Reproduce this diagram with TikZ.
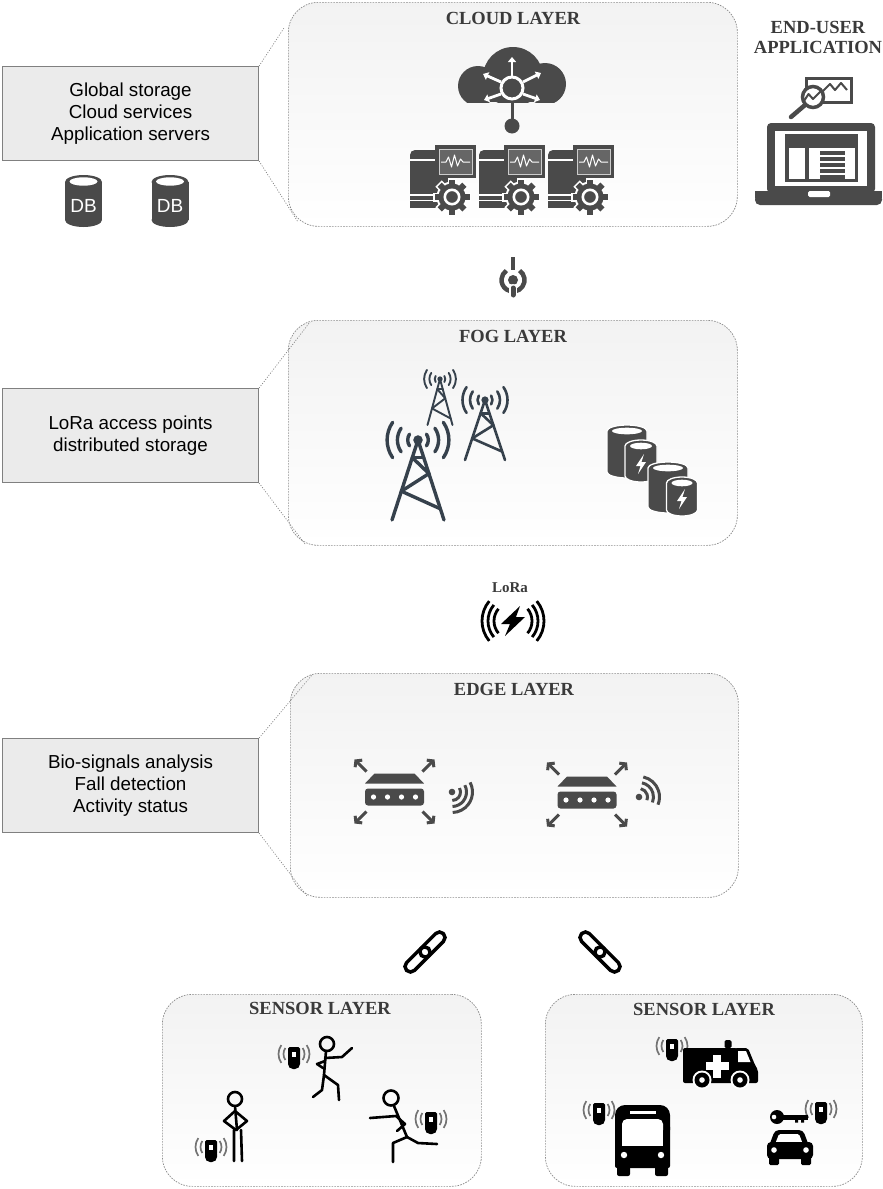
\documentclass[tikz,border=0pt]{standalone}
\usepackage{fontspec}
\setmainfont{Liberation Serif}
\setsansfont{Liberation Sans}
\usetikzlibrary{arrows.meta}
\definecolor{icon}{HTML}{4A4A4A}
\definecolor{mast}{HTML}{36414C}
\definecolor{screen}{HTML}{666666}
\definecolor{panel}{HTML}{EBEBEB}
\definecolor{ttlcol}{HTML}{3A3A3A}

% gear with a white rim, centre (#1,#2)
\newcommand\gearicon[2]{%
  \foreach \ang in {0,45,...,315}{\draw[white,line width=9pt] (#1,#2) -- ++(\ang:19);}
  \fill[white] (#1,#2) circle (15.5);
  \foreach \ang in {0,45,...,315}{\draw[icon,line width=6pt] (#1,#2) -- ++(\ang:17.5);}
  \fill[icon] (#1,#2) circle (13.5);
  \draw[white,line width=2.6pt] (#1,#2) circle (7.2);}

% server tower with monitor and gear, shifted by #1
\newcommand\server[1]{%
 \begin{scope}[shift={(#1,0)}]
  \fill[icon] (410,156) rectangle (448,208);
  \fill[icon,rounded corners=5pt] (410,150) rectangle (448,162);
  \draw[white,line width=1.4pt] (410,160) -- (436,160) (410,195) -- (437,195) (410,200.5) -- (437,200.5);
  \fill[icon] (435,145) rectangle (476,178);
  \filldraw[fill=screen,draw=black!20,line width=0.9pt] (439,149) rectangle (472,174);
  \draw[white,line width=1pt,line join=round] (441,162) -- (446,162) -- (448.5,157) -- (451.5,167) -- (454.5,155) -- (457.5,166) -- (460.5,159) -- (463,162) -- (470,162);
  \gearicon{452}{197}
 \end{scope}}

% database drum: centre x, top y, node name
\newcommand\dbicon[3]{%
  \fill[icon] (#1-18.5,#2+7) rectangle (#1+18.5,#2+45);
  \fill[icon] (#1,#2+7) ellipse [x radius=18.5, y radius=7];
  \fill[icon] (#1,#2+45) ellipse [x radius=18.5, y radius=7];
  \fill[white] (#1,#2+6.5) ellipse [x radius=14, y radius=4.2];
  \node[text=white,font=\sffamily\fontsize{19}{19}\selectfont] (#3) at (#1,#2+31) {DB};}

% storage drum: centre x, top y, half width, bottom y
\newcommand\drum[4]{%
  \filldraw[fill=icon,draw=white,line width=1.3pt]
    (#1-#3,#2+6) -- (#1-#3,#4-6) arc[start angle=180,end angle=0,x radius=#3,y radius=6]
    -- (#1+#3,#2+6) arc[start angle=0,end angle=-180,x radius=#3,y radius=6] -- cycle;
  \fill[white] (#1,#2+6) ellipse [x radius=#3-5, y radius=3.3];}

% lightning bolt in white, centre (#1,#2)
\newcommand\smallbolt[2]{%
  \fill[white] (#1+3,#2-10) -- (#1-5,#2+2) -- (#1-0.5,#2+2) -- (#1-3,#2+10) -- (#1+5,#2-2) -- (#1+0.5,#2-2) -- cycle;}

% radio mast: apex x, apex y, half base, height, wave step, line width
\newcommand\mastico[6]{%
 \begin{scope}[draw=mast,line width=#6,line cap=round,line join=round]
  \draw (#1,#2) -- (#1-#3,#2+#4) (#1,#2) -- (#1+#3,#2+#4);
  \draw ({#1-0.22*#3},{#2+0.22*#4}) -- ({#1+0.42*#3},{#2+0.42*#4}) -- ({#1-0.64*#3},{#2+0.64*#4}) -- ({#1+0.86*#3},{#2+0.86*#4});
  \draw ({#1+0.22*#3},{#2+0.22*#4}) -- ({#1-0.22*#3},{#2+0.22*#4});
  \foreach \k in {1,2,3}{
    \draw (#1,#2) ++(145:\k*#5) arc[start angle=145,end angle=215,radius=\k*#5];
    \draw (#1,#2) ++(-35:\k*#5) arc[start angle=-35,end angle=35,radius=\k*#5];}
  \fill[mast] (#1,#2) circle (1.4*#6);
 \end{scope}}

% router with four corner arrows, centre (#1,#2)
\newcommand\router[2]{%
 \begin{scope}[shift={(#1,#2)}]
  \fill[icon] (-20,-18) -- (20,-18) -- (29.5,-8) -- (-29.5,-8) -- cycle;
  \fill[icon,rounded corners=3pt] (-29.5,-3) rectangle (29.5,14);
  \foreach \dx in {-21,-7,7,21} \fill[white] (\dx,5.5) circle (2.6);
  \foreach \sx/\sy in {1/1,1/-1,-1/1,-1/-1}
    \draw[icon,line width=3pt,-{Straight Barb[length=4pt,width=10pt]}] (\sx*28,\sy*20) -- (\sx*40,\sy*32);
 \end{scope}}

% wifi waves: dot x, dot y, start angle, end angle
\newcommand\wifi[4]{%
  \fill[icon] (#1,#2) circle (3.3);
  \foreach \r in {8.5,14.5,20.5}
    \draw[icon,line width=3pt] (#1,#2) ++(#3:\r) arc[start angle=#3,end angle=#4,radius=\r];}

% chain link: centre x, centre y, angle
\newcommand\chainlink[3]{%
 \begin{scope}[rotate around={#3:(#1,#2)}]
  \draw[black,line width=3.5pt,rounded corners=5.4pt] (#1-26,#2-5.5) rectangle (#1+5,#2+5.5);
  \draw[black,line width=3.5pt,rounded corners=5.4pt] (#1-5,#2-5.5) rectangle (#1+26,#2+5.5);
 \end{scope}}

% wearable sensor with signal arcs, centre (#1,#2)
\newcommand\sensor[2]{%
 \begin{scope}[shift={(#1,#2)}]
  \foreach \r in {10.5,15.5}{
   \draw[black!55,line width=1.7pt] (0,-4) ++(145:\r) arc[start angle=145,end angle=215,radius=\r];
   \draw[black!55,line width=1.7pt] (0,-4) ++(-35:\r) arc[start angle=-35,end angle=35,radius=\r];}
  \fill[black,rounded corners=1.5pt] (-6,-11) rectangle (6,4);
  \fill[black,rounded corners=5pt] (-6,-2) rectangle (6,11);
  \fill[white] (-2.5,-6) rectangle (1.5,-1);
 \end{scope}}

\begin{document}
\begin{tikzpicture}[x=1pt,y=-1pt,
  layerbox/.style={draw=black!45,dash pattern=on 1.6pt off 1.2pt,line width=0.7pt,
    rounded corners=30pt,top color=black!5,bottom color=white,inner sep=0pt,anchor=north west},
  infobox/.style={draw=black!50,line width=1.1pt,fill=panel,anchor=north west,align=center,
    minimum width=256pt,minimum height=94pt,inner sep=0pt,
    font=\sffamily\fontsize{18.8}{22}\selectfont},
  callout/.style={draw=black!50,line width=0.7pt,dash pattern=on 1pt off 1.6pt},
  ttl/.style={font=\bfseries\fontsize{18.5}{20}\selectfont,text=ttlcol,align=center},
  fig/.style={black,line width=2.6pt,line cap=round,line join=round}]

\useasboundingbox (0,0) rectangle (883,1189);

% ---------- layer frames ----------
\node[layerbox,minimum width=449pt,minimum height=224pt] (cloud) at (288,2) {};
\node[layerbox,minimum width=449pt,minimum height=225pt] (fog) at (288,320) {};
\node[layerbox,minimum width=448pt,minimum height=224pt] (edge) at (290,673) {};
\node[layerbox,minimum width=319pt,minimum height=192pt] (sensL) at (162,994) {};
\node[layerbox,minimum width=317pt,minimum height=192pt] (sensR) at (545,994) {};

\node[ttl] (cloudT) at (513,18) {CLOUD LAYER};
\node[ttl] (fogT) at (513,336) {FOG LAYER};
\node[ttl] (edgeT) at (514,689) {EDGE LAYER};
\node[ttl] (sensLT) at (320,1008) {SENSOR LAYER};
\node[ttl] (sensRT) at (704,1009) {SENSOR LAYER};
\node[ttl] (appT) at (818,37) {END-USER\\APPLICATION};

% ---------- description boxes and callouts ----------
\node[infobox] (info1) at (2,66) {Global storage\\Cloud services\\Application servers};
\node[infobox] (info2) at (2,388) {LoRa access points\\distributed storage};
\node[infobox] (info3) at (2,738) {Bio-signals analysis\\Fall detection\\Activity status};

\coordinate (c1a) at (284,28);  \coordinate (c1b) at (298,222);
\coordinate (c2a) at (310,322); \coordinate (c2b) at (305,544);
\coordinate (c3a) at (312,675); \coordinate (c3b) at (307,896);
\draw[callout] (info1.north east) -- (c1a) (info1.south east) -- (c1b);
\draw[callout] (info2.north east) -- (c2a) (info2.south east) -- (c2b);
\draw[callout] (info3.north east) -- (c3a) (info3.south east) -- (c3b);

\dbicon{83.5}{175}{db1}
\dbicon{170}{175}{db2}

% ---------- cloud with network hub ----------
\begin{scope}
  \clip (440,40) rectangle (580,102);
  \fill[icon] (478,86) circle (20) (513,77) circle (30) (545,84) circle (21);
  \fill[icon] (478,86) rectangle (545,102);
\end{scope}
\begin{scope}[white,line width=2.8pt,-{Triangle[length=5pt,width=8pt]}]
  \draw (512,76) -- (512,57);
  \draw (501,82) -- (483,74);
  \draw (523,82) -- (541,73);
  \draw (501,94) -- (484,100);
  \draw (523,94) -- (540,100);
\end{scope}
\draw[white,line width=3pt,fill=icon] (512,88) circle (11);
\draw[icon,line width=3pt] (512,102) -- (512,120);
\fill[icon] (512,126) circle (7.5);

\server{0}
\server{69}
\server{138}

% ---------- end-user laptop ----------
\filldraw[fill=white,draw=icon,line width=3pt] (806.5,78.5) rectangle (851,102);
\draw[icon,line width=2pt,line join=round] (822,92) -- (830,84) -- (835,90) -- (841,83) -- (847,90);
\filldraw[fill=white,draw=icon,line width=3.5pt] (813,97) circle (10.5);
\draw[icon,line width=2pt,line join=round] (804,101) -- (808.5,94) -- (813,99) -- (822,90);
\draw[icon,line width=4.5pt,line cap=round] (805,105) -- (791,117);
\fill[icon,rounded corners=4pt] (767,123) rectangle (875,193);
\fill[white] (775,131) rectangle (867,186);
\fill[icon] (785,134) rectangle (858,182);
\fill[white] (789,148) rectangle (805,179);
\fill[white] (809,148) rectangle (855,179);
\foreach \yy in {151,157,...,175} \fill[icon] (820,\yy) rectangle (845,\yy+3.5);
\fill[icon] (755,191) rectangle (882,198);
\fill[icon,rounded corners=5pt] (755,194) rectangle (882,205);
\fill[white,rounded corners=1.5pt] (808,191) rectangle (830,197);

% ---------- uplink connector ----------
\draw[icon,line width=4pt] (513,257) -- (513,270);
\draw[icon,line width=4.5pt] (513,280) ++(-55:11.5) arc[start angle=-55,end angle=235,radius=11.5];
\fill[icon] (513,280) circle (5);
\draw[white,line width=8pt,line cap=round] (513,288) -- (513,295);
\draw[icon,line width=5pt,line cap=round] (513,288) -- (513,295);

% ---------- fog: masts and storage ----------
\mastico{440}{379}{12.5}{46}{5.3}{1.9}
\mastico{485}{400}{20}{60}{7.5}{2.6}
\mastico{418}{440}{26}{80}{10.3}{3.4}

\drum{627}{425}{20}{478}
\drum{641}{440}{16}{482}
\smallbolt{641}{464}
\drum{668}{462}{20}{513}
\drum{682}{477}{15.5}{516}
\smallbolt{682}{499}

% ---------- LoRa link ----------
\node[font=\bfseries\fontsize{15}{16}\selectfont,text=ttlcol] (lora) at (510,588) {LoRa};
\fill[black] (520,606) -- (501,624) -- (510,624) -- (505,636) -- (525,617) -- (516,617) -- cycle;
\foreach \r in {19,25,31}{
  \draw[black,line width=2.8pt] (513,621) ++(140:\r) arc[start angle=140,end angle=220,radius=\r];
  \draw[black,line width=2.8pt] (513,621) ++(-40:\r) arc[start angle=-40,end angle=40,radius=\r];}

% ---------- edge: gateways ----------
\router{394.5}{791.5}
\wifi{452}{792}{-28}{88}
\router{587}{794.5}
\wifi{639}{797}{-78}{22}

% ---------- short-range links ----------
\chainlink{425}{952}{45}
\chainlink{600}{952}{-45}

% ---------- sensor layer: people ----------
\sensor{211}{1151}
\sensor{294}{1058}
\sensor{431}{1123}
% standing figure
\draw[fig] (235,1099) circle (7);
\draw[fig] (235,1106) -- (237,1130);
\draw[fig] (235,1111) -- (224,1121) -- (236,1130) -- (247,1121) -- cycle;
\draw[fig] (234,1130) -- (234,1161) (241,1130) -- (242,1161);
% walking figure
\draw[fig] (327,1044) circle (7);
\draw[fig] (326,1051) -- (324,1075);
\draw[fig] (325,1058) -- (342,1057) -- (352,1048);
\draw[fig] (325,1061) -- (317,1064) -- (323,1068);
\draw[fig] (324,1075) -- (322,1090) -- (313,1097);
\draw[fig] (324,1075) -- (338,1085) -- (339,1100);
% running figure
\draw[fig] (391,1098) circle (7.5);
\draw[fig] (394,1106) -- (407,1137);
\draw[fig] (370,1118) -- (396,1116) -- (405,1124) -- (397,1131);
\draw[fig] (407,1137) -- (393,1143) -- (393,1162);
\draw[fig] (407,1137) -- (418,1143) -- (437,1144);

% ---------- sensor layer: vehicles ----------
\sensor{672}{1050}
\sensor{599}{1114}
\sensor{821}{1113}
% ambulance
\fill[black,rounded corners=1.5pt] (724.5,1040) rectangle (731.5,1048);
\fill[black,rounded corners=2pt] (683,1048) rectangle (737,1083);
\fill[black,rounded corners=2pt] (735,1048) -- (748,1048) -- (755,1065) -- (758,1070) -- (758,1083) -- (735,1083) -- cycle;
\fill[white] (738,1051) -- (746,1051) -- (750.5,1062) -- (738,1062) -- cycle;
\fill[white] (713,1054.5) rectangle (721,1077.5);
\fill[white] (705.5,1062) rectangle (728.5,1070);
\foreach \wx in {702,740}{
  \fill[white] (\wx,1080) circle (9.5);
  \fill[black] (\wx,1080) circle (7.5);
  \fill[white] (\wx,1080) circle (2.8);}
% bus
\fill[black,rounded corners=10pt] (615,1105) rectangle (670,1140);
\fill[black,rounded corners=2pt] (615,1125) rectangle (670,1168);
\fill[black,rounded corners=2pt] (617,1160) rectangle (630,1176) (655,1160) rectangle (668,1176);
\fill[white,rounded corners=5pt] (622,1119) rectangle (663,1135);
\fill[white] (622,1128) rectangle (663,1146);
\fill[white] (630,1110.5) rectangle (656,1114);
\fill[white] (624,1155) circle (3.2) (661,1155) circle (3.2);
% car and key
\fill[black,rounded corners=4pt] (775,1130) -- (803,1130) -- (809,1146) -- (769,1146) -- cycle;
\fill[white,rounded corners=1.5pt] (779,1134) -- (799,1134) -- (802.5,1143) -- (775.5,1143) -- cycle;
\fill[black,rounded corners=4pt] (767,1142) rectangle (813,1159);
\fill[black,rounded corners=1.5pt] (769,1155) rectangle (779,1165) (801,1155) rectangle (811,1165);
\fill[white] (774,1150) circle (2.8) (806,1150) circle (2.8);
\fill[black] (777,1117) circle (7);
\fill[white] (774,1117) circle (2.3);
\fill[black] (782,1114.5) rectangle (808,1119.5);
\fill[black] (795,1119) rectangle (798,1122.5) (801,1119) rectangle (804,1122.5);

\end{tikzpicture}
\end{document}
